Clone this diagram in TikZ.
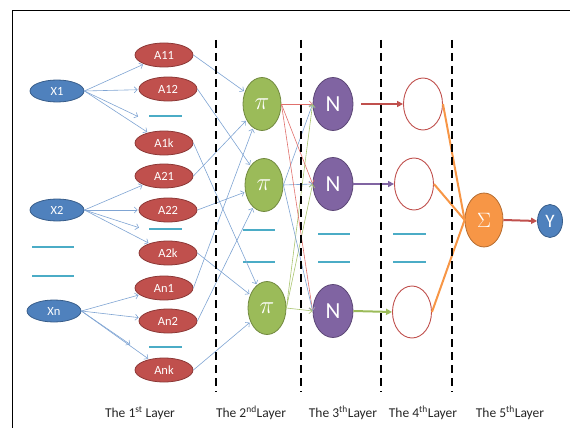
\documentclass[tikz,border=0pt]{standalone}
\usepackage{fontspec}
\setmainfont{Carlito}
\usetikzlibrary{shapes.geometric,arrows.meta}
\definecolor{xblue}{HTML}{4F81BD}
\definecolor{xbluedk}{HTML}{385D8A}
\definecolor{ared}{HTML}{C0504D}
\definecolor{areddk}{HTML}{8C3836}
\definecolor{pgreen}{HTML}{9BBB59}
\definecolor{pgreendk}{HTML}{71893F}
\definecolor{npurple}{HTML}{8064A2}
\definecolor{npurpledk}{HTML}{5C4776}
\definecolor{sorange}{HTML}{F79646}
\definecolor{sorangedk}{HTML}{B66D31}
\definecolor{cyanbar}{HTML}{4BACC6}
\definecolor{thinblue}{HTML}{7FA4D3}
\definecolor{thinred}{HTML}{E0706C}
\definecolor{thingreen}{HTML}{A9C46E}
\tikzset{
  xnode/.style={ellipse,fill=xblue,draw=xbluedk,line width=0.8pt,minimum width=54pt,minimum height=22pt,inner sep=0pt,text=white,font=\fontsize{12.5}{14}\selectfont},
  anode/.style={ellipse,fill=ared,draw=areddk,line width=0.8pt,minimum width=58pt,minimum height=24pt,inner sep=0pt,text=white,font=\fontsize{12.5}{14}\selectfont},
  pinode/.style={ellipse,fill=pgreen,draw=pgreendk,line width=0.8pt,minimum width=38pt,minimum height=53pt,inner sep=0pt,text=white,font=\fontsize{25}{27}\selectfont},
  nnode/.style={ellipse,fill=npurple,draw=npurpledk,line width=0.8pt,minimum width=40pt,minimum height=53pt,inner sep=0pt,text=white,font=\fontsize{23}{25}\selectfont},
  cnode/.style={ellipse,fill=white,draw=ared,line width=0.9pt,minimum width=39pt,minimum height=52pt,inner sep=0pt},
  snode/.style={ellipse,fill=sorange,draw=sorangedk,line width=0.8pt,minimum width=38pt,minimum height=54pt,inner sep=0pt,text=white,font=\fontsize{21}{23}\selectfont},
  ynode/.style={ellipse,fill=xblue,draw=xbluedk,line width=0.8pt,minimum width=25pt,minimum height=33pt,inner sep=0pt,text=white,font=\fontsize{19}{21}\selectfont},
  cdash/.style={cyanbar,line width=2.5pt},
  sepline/.style={black,line width=2.5pt,dash pattern=on 8pt off 5pt},
  thin/.style={line width=0.6pt,-{Straight Barb[length=3pt,width=6pt]}},
  thick/.style={line width=2pt,-{Triangle[length=6pt,width=6pt]}},
  lbl/.style={font=\fontsize{13.5}{15}\selectfont,text=black!85}
}
\begin{document}
\begin{tikzpicture}[x=1pt,y=-1pt]
\useasboundingbox (0,0) rectangle (570,428);
\draw[black,line width=0.9pt] (12,428) -- (12,10) -- (570,10);

% input nodes
\node[xnode] (X1) at (57,91) {X1};
\node[xnode] (X2) at (57,210) {X2};
\node[xnode] (Xn) at (54,311) {Xn};
\draw[cdash] (32,247) -- (74,247);
\draw[cdash] (32,276) -- (74,276);

% layer 1
\node[anode] (A11) at (164,55) {A11};
\node[anode] (A12) at (168,89) {A12};
\node[anode] (A1k) at (164,143) {A1k};
\node[anode] (A21) at (164,176) {A21};
\node[anode] (A22) at (168,210) {A22};
\node[anode] (A2k) at (168,253) {A2k};
\node[anode] (An1) at (164,288) {An1};
\node[anode] (An2) at (168,321) {An2};
\node[anode] (Ank) at (164,370) {Ank};
\coordinate (d1a) at (149,116); \coordinate (d1b) at (182,116);
\coordinate (d2a) at (149,229); \coordinate (d2b) at (182,229);
\coordinate (d3a) at (149,347); \coordinate (d3b) at (182,347);
\draw[cdash] (d1a) -- (d1b);
\draw[cdash] (d2a) -- (d2b);
\draw[cdash] (d3a) -- (d3b);
\coordinate (t1) at (139,117);
\coordinate (t2) at (140,228);
\coordinate (t3) at (131,345);

\foreach \s/\t in {X1/A11,X1/A12,X1/t1,X1/A1k,X2/A21,X2/A22,X2/t2,X2/A2k,Xn/An1,Xn/An2,Xn/t3,Xn/Ank}
  \draw[thin,thinblue,shorten >=1pt] (\s.east) -- (\t);

% layer 2
\node[pinode] (P1) at (262,104) {$\pi$};
\node[pinode] (P2) at (264,185) {$\pi$};
\node[pinode] (P3) at (267,308) {$\pi$};
\draw[cdash] (243,230) -- (275,230);
\draw[cdash] (243,262) -- (275,262);

\foreach \s/\t in {A11/P1,A21/P1,An1/P1,A12/P2,A22/P2,An2/P2,A1k/P3,A2k/P3,Ank/P3}
  \draw[thin,thinblue,shorten >=1pt] (\s.east) -- (\t);

% layer 3
\node[nnode] (N1) at (333,104) {N};
\node[nnode] (N2) at (333,184) {N};
\node[nnode] (N3) at (333,311) {N};
\draw[cdash] (318,234) -- (350,234);
\draw[cdash] (318,262) -- (350,262);

\foreach \t in {N1,N2,N3} {
  \draw[thin,thinred] (P1.east) -- (\t.west);
  \draw[thin,thinblue] (P2.east) -- (\t.west);
  \draw[thin,thingreen] (P3.east) -- (\t.west);
}

% layer 4
\node[cnode] (C1) at (423,104) {};
\node[cnode] (C2) at (414,184) {};
\node[cnode] (C3) at (412,312) {};
\draw[cdash] (393,234) -- (426,234);
\draw[cdash] (393,262) -- (426,262);

\draw[thick,ared,shorten <=8pt] (N1.east) -- (C1.west);
\draw[thick,npurple] (N2.east) -- (C2.west);
\draw[thick,pgreen] (N3.east) -- (C3.west);

% layer 5
\node[snode] (S) at (484,220) {$\Sigma$};
\node[ynode] (Y) at (550,221) {Y};
\draw[sorange,line width=2pt] (C1.east) -- (S.west);
\draw[sorange,line width=2pt] (C2.east) -- (S.west);
\draw[sorange,line width=2pt] (C3.east) -- (S.west);
\draw[thick,ared] (S.east) -- (Y.west);

% separators
\foreach \x in {216,301,381,452}
  \draw[sepline] (\x,40) -- (\x,392);

% labels
\node[lbl] (L1) at (140,413) {The 1\textsuperscript{st} Layer};
\node[lbl] (L2) at (251,413) {The 2\textsuperscript{nd}Layer};
\node[lbl] (L3) at (343,413) {The 3\textsuperscript{th}Layer};
\node[lbl] (L4) at (423,413) {The 4\textsuperscript{th}Layer};
\node[lbl] (L5) at (510,413) {The 5\textsuperscript{th}Layer};
\end{tikzpicture}
\end{document}
